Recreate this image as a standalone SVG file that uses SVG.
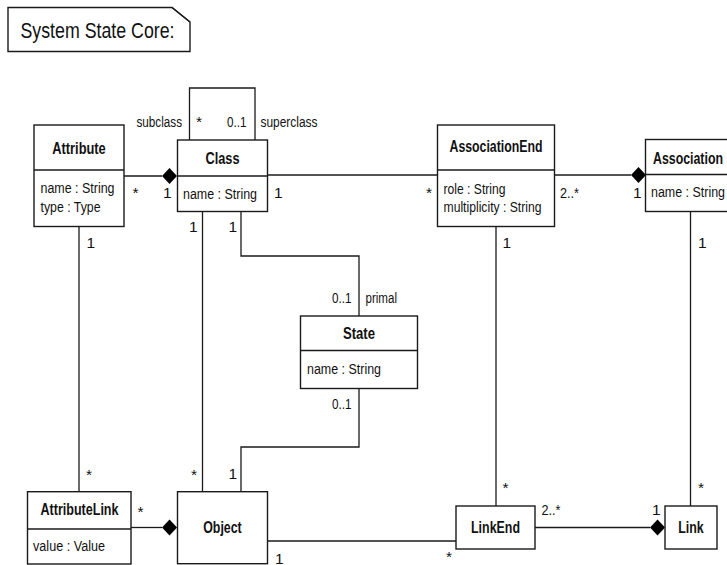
<svg xmlns="http://www.w3.org/2000/svg" width="727" height="565" viewBox="0 0 727 565">
  <style>
    .box { fill: #ffffff; stroke: #1a1a1a; stroke-width: 1.4; }
    .line { fill: none; stroke: #1a1a1a; stroke-width: 1.3; }
    .dia { fill: #000000; stroke: none; }
    text { font-family: "Liberation Sans", Arial, sans-serif; fill: #111111; }
    .t { font-size: 16px; font-weight: bold; text-anchor: middle; }
    .a { font-size: 15.5px; }
    .m { font-size: 15.5px; }
    .note { font-size: 22px; }
  </style>
  <defs>
    <path id="diamond" class="dia" d="M0,0 L7.5,-8 L15,0 L7.5,8 Z"/>
  </defs>

  <!-- note -->
  <g id="note">
    <path class="box" d="M8,7.5 H172 L190,22 V51.5 H8 Z"/>
    <path class="line" d="M172,7.5 L190,22"/>
    <text class="note" x="20.5" y="37.5" textLength="154" lengthAdjust="spacingAndGlyphs">System State Core:</text>
  </g>

  <!-- connectors -->
  <g id="connectors">
    <path class="line" d="M124,176 H162"/>
    <use href="#diamond" x="162" y="176"/>
    <path class="line" d="M189.5,140 V88 H255 V140"/>
    <path class="line" d="M267.5,175 H437.5"/>
    <path class="line" d="M554.5,175 H631"/>
    <use href="#diamond" x="631" y="175"/>
    <path class="line" d="M202.5,211.5 V491.7"/>
    <path class="line" d="M241,211.5 V256 H359 V316"/>
    <path class="line" d="M359,388.5 V447 H241 V491.7"/>
    <path class="line" d="M79,226.5 V491.7"/>
    <path class="line" d="M131,527.5 H162"/>
    <use href="#diamond" x="162" y="527.5"/>
    <path class="line" d="M267.5,541 H456"/>
    <path class="line" d="M496,226.5 V506"/>
    <path class="line" d="M535,527.5 H650"/>
    <use href="#diamond" x="650" y="527.5"/>
    <path class="line" d="M690.5,211.5 V506"/>

    <!-- role names and multiplicities -->
    <text class="m" x="136.5" y="127" textLength="45.5" lengthAdjust="spacingAndGlyphs">subclass</text>
    <text class="m" x="196" y="127">*</text>
    <text class="m" x="227" y="127" textLength="19.5" lengthAdjust="spacingAndGlyphs">0..1</text>
    <text class="m" x="260.5" y="127" textLength="57" lengthAdjust="spacingAndGlyphs">superclass</text>
    <text class="m" x="132.5" y="197.5">*</text>
    <text class="m" x="163" y="197.5">1</text>
    <text class="m" x="274" y="197.5">1</text>
    <text class="m" x="426" y="197.5">*</text>
    <text class="m" x="560" y="197.5" textLength="19" lengthAdjust="spacingAndGlyphs">2..*</text>
    <text class="m" x="633" y="197.5">1</text>
    <text class="m" x="189" y="232">1</text>
    <text class="m" x="228.5" y="232">1</text>
    <text class="m" x="86.5" y="248">1</text>
    <text class="m" x="502.5" y="248">1</text>
    <text class="m" x="698" y="248">1</text>
    <text class="m" x="332" y="303" textLength="19.5" lengthAdjust="spacingAndGlyphs">0..1</text>
    <text class="m" x="365.5" y="303" textLength="31.5" lengthAdjust="spacingAndGlyphs">primal</text>
    <text class="m" x="332" y="408.5" textLength="19.5" lengthAdjust="spacingAndGlyphs">0..1</text>
    <text class="m" x="86" y="480">*</text>
    <text class="m" x="191" y="480">*</text>
    <text class="m" x="228.5" y="478.5">1</text>
    <text class="m" x="137.5" y="517">*</text>
    <text class="m" x="502.5" y="493">*</text>
    <text class="m" x="698" y="493">*</text>
    <text class="m" x="541.5" y="515" textLength="19" lengthAdjust="spacingAndGlyphs">2..*</text>
    <text class="m" x="652" y="515">1</text>
    <text class="m" x="275" y="563.5">1</text>
    <text class="m" x="446" y="562">*</text>
  </g>

  <!-- classes -->
  <g id="Attribute">
    <rect class="box" x="34" y="125" width="90" height="101.5"/>
    <path class="line" d="M34,170 H124"/>
    <text class="t" x="79" y="153.5" textLength="53.5" lengthAdjust="spacingAndGlyphs">Attribute</text>
    <text class="a" x="40.5" y="193" textLength="74" lengthAdjust="spacingAndGlyphs">name : String</text>
    <text class="a" x="40.5" y="211.5" textLength="60" lengthAdjust="spacingAndGlyphs">type : Type</text>
  </g>

  <g id="Class">
    <rect class="box" x="177.5" y="140" width="90" height="71.5"/>
    <path class="line" d="M177.5,176 H267.5"/>
    <text class="t" x="222.5" y="163.5" textLength="34" lengthAdjust="spacingAndGlyphs">Class</text>
    <text class="a" x="183" y="198.5" textLength="74" lengthAdjust="spacingAndGlyphs">name : String</text>
  </g>

  <g id="AssociationEnd">
    <rect class="box" x="437.5" y="125" width="117" height="101.5"/>
    <path class="line" d="M437.5,170 H554.5"/>
    <text class="t" x="496" y="152" textLength="93" lengthAdjust="spacingAndGlyphs">AssociationEnd</text>
    <text class="a" x="443.5" y="193.5" textLength="62" lengthAdjust="spacingAndGlyphs">role : String</text>
    <text class="a" x="443.5" y="211.5" textLength="98" lengthAdjust="spacingAndGlyphs">multiplicity : String</text>
  </g>

  <g id="Association">
    <rect class="box" x="645.5" y="139.5" width="100" height="72"/>
    <path class="line" d="M645.5,174.5 H745.5"/>
    <text class="t" x="653" y="163.5" style="text-anchor:start" textLength="70" lengthAdjust="spacingAndGlyphs">Association</text>
    <text class="a" x="651" y="197" textLength="74" lengthAdjust="spacingAndGlyphs">name : String</text>
  </g>

  <g id="State">
    <rect class="box" x="300.5" y="316" width="117" height="72.5"/>
    <path class="line" d="M300.5,350.5 H417.5"/>
    <text class="t" x="359" y="338.5" textLength="32" lengthAdjust="spacingAndGlyphs">State</text>
    <text class="a" x="307" y="373.5" textLength="74" lengthAdjust="spacingAndGlyphs">name : String</text>
  </g>

  <g id="AttributeLink">
    <rect class="box" x="27.5" y="491.7" width="103.5" height="72.3"/>
    <path class="line" d="M27.5,529 H131"/>
    <text class="t" x="79.5" y="515" textLength="78" lengthAdjust="spacingAndGlyphs">AttributeLink</text>
    <text class="a" x="33" y="550.5" textLength="72" lengthAdjust="spacingAndGlyphs">value : Value</text>
  </g>

  <g id="Object">
    <rect class="box" x="177.5" y="491.7" width="90" height="72"/>
    <text class="t" x="222.5" y="533" textLength="38.5" lengthAdjust="spacingAndGlyphs">Object</text>
  </g>

  <g id="LinkEnd">
    <rect class="box" x="456" y="506" width="79" height="43"/>
    <text class="t" x="495.5" y="533" textLength="49" lengthAdjust="spacingAndGlyphs">LinkEnd</text>
  </g>

  <g id="Link">
    <rect class="box" x="665" y="506" width="52" height="43"/>
    <text class="t" x="691" y="533" textLength="25.5" lengthAdjust="spacingAndGlyphs">Link</text>
  </g>
</svg>
